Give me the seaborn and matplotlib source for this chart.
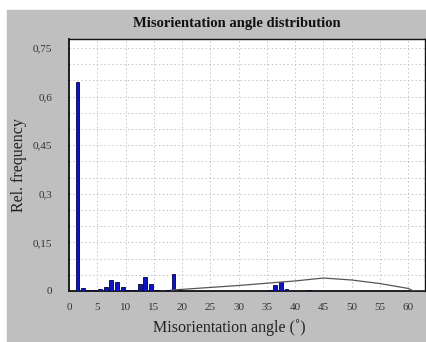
import numpy as np
import pandas as pd
import matplotlib.pyplot as plt
import seaborn as sns
from matplotlib.patches import Rectangle
from matplotlib.ticker import MultipleLocator, FixedLocator


# ==========================================
# DATA
# ==========================================
bin_centers = [1.5, 2.5, 3.5, 4.5, 5.5, 6.5, 7.5, 8.5, 9.5, 10.5, 11.5,
               12.5, 13.5, 14.5, 15.5, 16.5, 17.5, 18.5, 19.5,
               35.5, 36.5, 37.5, 38.5, 42.5]
rel_freq = [0.645, 0.008, 0.003, 0.003, 0.005, 0.013, 0.034, 0.029, 0.011,
            0.002, 0.002, 0.021, 0.044, 0.021, 0.002, 0.001, 0.003, 0.051,
            0.003, 0.002, 0.017, 0.029, 0.007, 0.002]

random_angle = [18, 20, 25, 30, 35, 40, 45, 50, 55, 60, 61, 63]
random_freq = [0.003, 0.005, 0.011, 0.017, 0.024, 0.031, 0.040, 0.034,
               0.023, 0.008, 0.0, 0.0]

y_ticks = [0, 0.15, 0.3, 0.45, 0.6, 0.75]
y_tick_labels = ["0", "0,15", "0,3", "0,45", "0,6", "0,75"]
x_ticks = list(range(0, 61, 5))

bars_df = pd.DataFrame({"angle": bin_centers, "freq": rel_freq})
curve_df = pd.DataFrame({"angle": random_angle, "freq": random_freq})


# ==========================================
# STYLE
# ==========================================
sns.set_style("white")
plt.rcParams["font.family"] = ["Liberation Serif", "DejaVu Serif"]

fig = plt.figure(figsize=(4.27, 3.42), dpi=100)
fig.patch.set_facecolor("white")
fig.patches.append(Rectangle(
    (7 / 427, 0), 1, (342 - 10) / 342,
    transform=fig.transFigure, color="#bfbfbf", zorder=-10
))

ax = fig.add_axes([69 / 427, 51 / 342, 356 / 427, 252 / 342])
ax.set_facecolor("white")


# ==========================================
# PLOT
# ==========================================
sns.barplot(
    data=bars_df,
    x="angle",
    y="freq",
    native_scale=True,
    width=0.68,
    color="#0c14c4",
    saturation=1,
    edgecolor="#00003c",
    linewidth=0.6,
    ax=ax,
    zorder=3
)

sns.lineplot(
    data=curve_df,
    x="angle",
    y="freq",
    color="#555555",
    linewidth=0.9,
    ax=ax,
    zorder=4
)

ax.set_xlim(0, 63)
ax.set_ylim(0, 0.778)

ax.xaxis.set_major_locator(FixedLocator(x_ticks))
ax.xaxis.set_minor_locator(MultipleLocator(5 / 3))
ax.yaxis.set_major_locator(FixedLocator(y_ticks))
ax.yaxis.set_minor_locator(MultipleLocator(0.05))
ax.set_yticklabels(y_tick_labels)

ax.grid(which="major", axis="x", linestyle=(0, (1.5, 2.5)),
        color="#c4c4c4", linewidth=0.7)
ax.grid(which="both", axis="y", linestyle=(0, (1.5, 2.5)),
        color="#c4c4c4", linewidth=0.7)

ax.tick_params(axis="both", which="major", direction="out", length=3,
               width=0.6, color="#444444", labelsize=8,
               labelcolor="#333333")
ax.tick_params(axis="both", which="minor", direction="out", length=2,
               width=0.5, color="#444444")
ax.tick_params(axis="x", pad=6)
ax.tick_params(axis="y", pad=9)

for side in ["left", "bottom", "top", "right"]:
    ax.spines[side].set_color("#111111")
    ax.spines[side].set_linewidth(1.0)
ax.spines["left"].set_linewidth(1.3)
ax.spines["bottom"].set_linewidth(1.3)

ax.set_xlabel("Misorientation angle (˚)", fontsize=11.5, color="#222222")
ax.set_ylabel("Rel. frequency", fontsize=11.5, color="#222222")
ax.xaxis.set_label_coords(0.45, -0.146)
ax.yaxis.set_label_coords(-0.14, 0.5)
ax.xaxis.label.set_va("center")
ax.yaxis.label.set_va("center")

fig.text(237 / 427, 1 - 23 / 342, "Misorientation angle distribution",
         ha="center", va="center", fontsize=10.5, fontweight="bold",
         color="#111111")

plt.savefig("out.png", dpi=100, facecolor=fig.get_facecolor())
